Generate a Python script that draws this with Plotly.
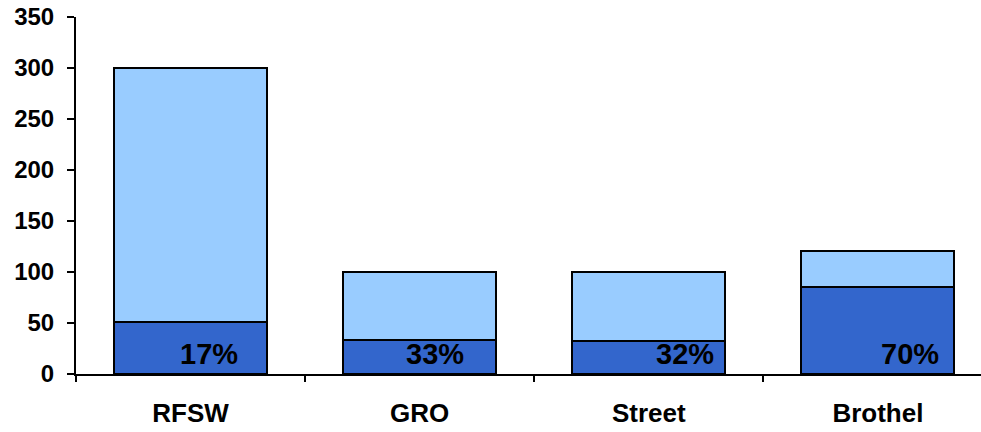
import plotly.graph_objects as go

# Sample groups and counts
categories = ["RFSW", "GRO", "Street", "Brothel"]
positive = [51, 33, 32, 85]
totals = [300, 100, 100, 121]
remainder = [t - p for t, p in zip(totals, positive)]
pct_labels = [f"{round(100 * p / t)}%" for p, t in zip(positive, totals)]

y_ticks = [0, 50, 100, 150, 200, 250, 300, 350]

FONT = "Liberation Sans, Arial, sans-serif"
DARK = "#3366CC"
LIGHT = "#99CCFF"

fig = go.Figure()
fig.add_trace(go.Bar(
    x=categories, y=positive, marker=dict(color=DARK, line=dict(color="black", width=2)),
    width=0.667, showlegend=False,
))
fig.add_trace(go.Bar(
    x=categories, y=remainder, marker=dict(color=LIGHT, line=dict(color="black", width=2)),
    width=0.667, showlegend=False,
))

# percentage labels sit inside the lower segment, toward the right of each bar
label_shift = [18, 15, 36, 32]
for cat, txt, dx in zip(categories, pct_labels, label_shift):
    fig.add_annotation(
        x=cat, y=20, text=f"<b>{txt}</b>", showarrow=False, xshift=dx,
        font=dict(family=FONT, size=29, color="black"), xanchor="center", yanchor="middle",
    )

fig.update_layout(
    barmode="stack",
    width=981, height=432,
    margin=dict(l=76, r=0, t=17, b=58),
    paper_bgcolor="white", plot_bgcolor="white",
    font=dict(family=FONT, color="black"),
    bargap=0,
)
fig.update_xaxes(
    range=[-0.5, 3.45], showline=True, linecolor="black", linewidth=2,
    ticks="outside", tickson="boundaries", ticklen=6, tickwidth=1.5, tickcolor="black",
    tickfont=dict(family=FONT, size=26, weight="bold", color="black"),
    ticklabelstandoff=15, showgrid=False, zeroline=False,
)
fig.update_yaxes(
    range=[0, 350], tickvals=y_ticks, showline=True, linecolor="black", linewidth=2,
    ticks="outside", ticklen=7, tickwidth=1.5, tickcolor="black",
    tickfont=dict(family=FONT, size=24, weight="bold", color="black"),
    ticklabelstandoff=8, showgrid=False, zeroline=False,
)

fig.write_html("out.html")
